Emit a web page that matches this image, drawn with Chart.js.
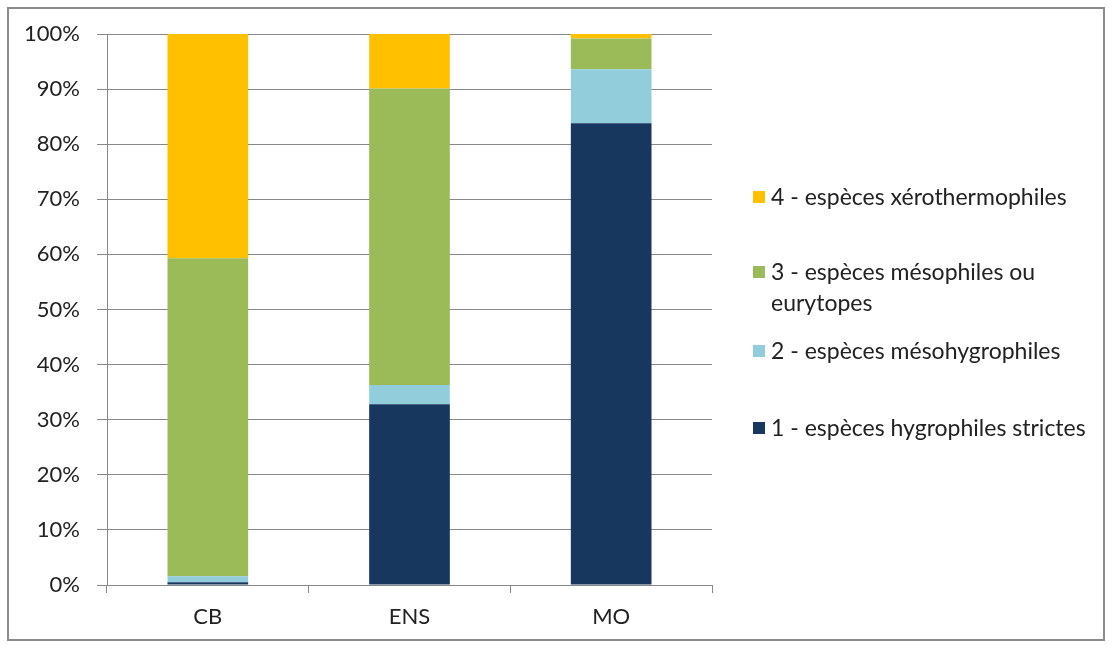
<!DOCTYPE html>
<html><head><meta charset="utf-8">
<script src="https://cdn.jsdelivr.net/npm/chart.js@4/dist/chart.umd.min.js"></script>
<style>
html,body{margin:0;padding:0;background:#fff;}
#wrap{position:relative;width:1112px;height:648px;}
#legend{position:absolute;left:753px;top:0;font-family:Lato,"Liberation Sans",sans-serif;font-size:23px;color:#222;}
.item{position:absolute;left:0;white-space:nowrap;line-height:31px;}
.sw{position:absolute;left:0;width:12px;height:12px;}
.tx{position:absolute;left:18px;top:0;}
</style>
</head><body>
<div id="wrap">
<canvas id="c" width="1112" height="648"></canvas>
<div id="legend"></div>
</div>
<script>
const categories = ["CB", "ENS", "MO"];
const seriesNames = [
  "1 - espèces hygrophiles strictes",
  "2 - espèces mésohygrophiles",
  "3 - espèces mésophiles ou eurytopes",
  "4 - espèces xérothermophiles"
];
const hygrophiles = [0.5, 32.8, 83.8];
const mesohygrophiles = [1.1, 3.5, 9.8];
const mesophiles = [57.7, 53.8, 5.6];
const xerothermophiles = [40.7, 9.9, 0.8];
const yTicks = [0, 10, 20, 30, 40, 50, 60, 70, 80, 90, 100];
const colors = ["#17375E", "#92CDDC", "#9BBB59", "#FFC000"];

const FONT = "Lato";
const values = [hygrophiles, mesohygrophiles, mesophiles, xerothermophiles];

const frame = {
  id: 'frame',
  beforeDraw(chart) {
    const ctx = chart.ctx;
    ctx.save();
    ctx.fillStyle = '#fff';
    ctx.fillRect(0, 0, chart.width, chart.height);
    ctx.restore();
  },
  afterDraw(chart) {
    const ctx = chart.ctx;
    ctx.save();
    ctx.strokeStyle = '#8a8a8a';
    ctx.lineWidth = 2;
    ctx.strokeRect(8, 8, 1096, 632);
    ctx.restore();
  }
};

new Chart(document.getElementById('c'), {
  type: 'bar',
  data: {
    labels: categories,
    datasets: values.map((v, i) => ({
      label: seriesNames[i],
      data: v,
      backgroundColor: colors[i],
      borderWidth: 0,
      categoryPercentage: 1,
      barPercentage: 0.4
    }))
  },
  options: {
    responsive: false,
    animation: false,
    layout: { padding: { left: 0, right: 400, top: 34, bottom: 0 } },
    plugins: { legend: { display: false }, tooltip: { enabled: false } },
    scales: {
      x: {
        stacked: true,
        grid: { display: true, drawOnChartArea: false, drawTicks: true, tickLength: 8, color: '#888', offset: true },
        border: { color: '#888', width: 1 },
        ticks: { color: '#222', font: { family: FONT, size: 22 }, padding: 11 },
        afterFit(s) { s.height = 648 - 585; }
      },
      y: {
        stacked: true,
        min: 0, max: 100,
        afterBuildTicks(s) { s.ticks = yTicks.map(v => ({ value: v })); },
        grid: { color: '#888', tickLength: 10, drawTicks: true },
        border: { color: '#888', width: 1 },
        ticks: { color: '#222', font: { family: FONT, size: 22 }, padding: 17, callback: v => v + '%' },
        afterFit(s) { s.width = 107; }
      }
    }
  },
  plugins: [frame]
});

// HTML legend
const legendRows = [
  { idx: 3, y: 181, lines: ["4 - espèces xérothermophiles"] },
  { idx: 2, y: 256, lines: ["3 - espèces mésophiles ou", "eurytopes"] },
  { idx: 1, y: 335, lines: ["2 - espèces mésohygrophiles"] },
  { idx: 0, y: 412, lines: ["1 - espèces hygrophiles strictes"] }
];
const lg = document.getElementById('legend');
legendRows.forEach(r => {
  const d = document.createElement('div');
  d.className = 'item';
  d.style.top = r.y + 'px';
  const sw = document.createElement('div');
  sw.className = 'sw';
  sw.style.background = colors[r.idx];
  sw.style.top = '10px';
  d.appendChild(sw);
  const t = document.createElement('div');
  t.className = 'tx';
  t.innerHTML = r.lines.join('<br>');
  d.appendChild(t);
  lg.appendChild(d);
});
</script>
</body></html>
